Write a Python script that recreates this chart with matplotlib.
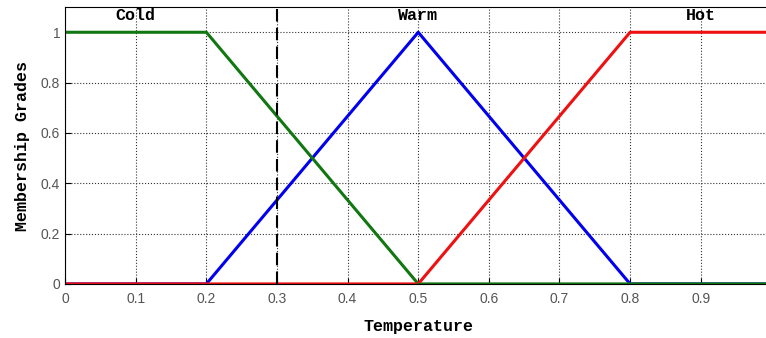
import matplotlib.pyplot as plt

# membership functions (breakpoints)
cold_x = [0, 0.2, 0.5, 1.0]
cold_y = [1, 1, 0, 0]
warm_x = [0, 0.2, 0.5, 0.8, 1.0]
warm_y = [0, 0, 1, 0, 0]
hot_x = [0, 0.5, 0.8, 1.0]
hot_y = [0, 0, 1, 1]

labels = ["Cold", "Warm", "Hot"]
label_x = [0.1, 0.5, 0.9]
cut_x = 0.3

mono = "Liberation Mono"
tick_font = ["Liberation Sans Narrow", "Liberation Sans", "DejaVu Sans"]

fig = plt.figure(figsize=(7.66, 3.38), dpi=100)
ax = fig.add_axes([0.085, 0.16, 0.922, 0.819])

ax.plot(warm_x, warm_y, color="#0000ee", lw=2.2)
ax.plot(cold_x, cold_y, color="#117711", lw=2.2)
ax.plot(hot_x, hot_y, color="#ee1111", lw=2.2)
# zero tail of the cold set sits on top of the hot one to the right of 0.5
ax.plot(cold_x[2:], cold_y[2:], color="#117711", lw=2.2)
ax.axvline(cut_x, color="black", ls="--", lw=1.5, dashes=(6, 3))

for t, x in zip(labels, label_x):
    ax.text(x, 1.065, t, ha="center", va="center", family=mono,
            fontweight="bold", fontsize=12)

ax.set_xlim(0, 1)
ax.set_ylim(0, 1.1)
ax.set_xticks([0, 0.1, 0.2, 0.3, 0.4, 0.5, 0.6, 0.7, 0.8, 0.9])
ax.set_xticklabels(["0", "0.1", "0.2", "0.3", "0.4", "0.5", "0.6", "0.7", "0.8", "0.9"])
ax.set_yticks([0, 0.2, 0.4, 0.6, 0.8, 1])
ax.set_yticklabels(["0", "0.2", "0.4", "0.6", "0.8", "1"])
ax.tick_params(labelsize=10, labelcolor="#555555", direction="in", length=4)
ax.tick_params(axis="x", pad=6)
for lab in ax.get_xticklabels() + ax.get_yticklabels():
    lab.set_family(tick_font)
ax.grid(True, ls=":", color="#333333", lw=0.8)

ax.set_xlabel("Temperature", family=mono, fontweight="bold", fontsize=12, labelpad=9)
ax.set_ylabel("Membership Grades", family=mono, fontweight="bold", fontsize=12, labelpad=8)

fig.savefig("out.png", dpi=100)
